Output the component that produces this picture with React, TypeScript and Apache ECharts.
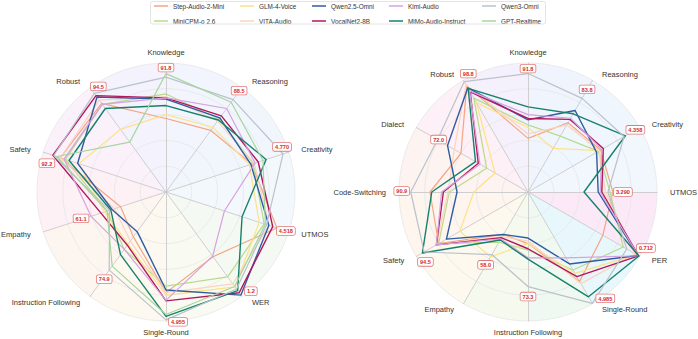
import React, { useEffect, useRef } from "react";
import * as echarts from "echarts";

// ---------- data ----------
const seriesNames = [
  "Step-Audio-2-Mini", "MiniCPM-o 2.6", "GLM-4-Voice", "VITA-Audio", "Qwen2.5-Omni",
  "VocalNet2-8B", "Kimi-Audio", "MiMo-Audio-Instruct", "Qwen3-Omni", "GPT-Realtime",
];
const seriesColors = [
  "#f4a582", "#b8dc8c", "#fde28a", "#fcd3be", "#2f5ca4",
  "#b3175c", "#d5a2e2", "#17806d", "#b9c2cb", "#a7d69c",
];
const seriesWidths = [1.2, 1.2, 1.2, 1.2, 1.4, 1.4, 1.2, 1.4, 1.2, 1.2];

// legend columns (matplotlib-like column-major layout)
const legendColumns = [
  ["Step-Audio-2-Mini", "MiniCPM-o 2.6"],
  ["GLM-4-Voice", "VITA-Audio"],
  ["Qwen2.5-Omni", "VocalNet2-8B"],
  ["Kimi-Audio", "MiMo-Audio-Instruct"],
  ["Qwen3-Omni", "GPT-Realtime"],
];

// left radar: clockwise from top
const leftAxes = ["Knowledge", "Reasoning", "Creativity", "UTMOS", "WER", "Single-Round",
  "Instruction Following", "Empathy", "Safety", "Robust"];
const leftMax = [100, 100, 5, 5, 100, 5, 100, 100, 100, 100];
const leftLowerBetter = [false, false, false, false, true, false, false, false, false, false];
const leftBest = ["91.8", "88.5", "4.770", "4.518", "1.2", "4.955", "74.9", "61.1", "92.2", "94.5"];
const leftBestValues = [91.8, 88.5, 4.77, 4.518, 1.2, 4.955, 74.9, 61.1, 92.2, 94.5];

const leftS2M = [57, 59, 3.5, 4.518, 38, 3.9, 43, 37, 86, 85];
const leftMCP = [76, 70, 3.55, 4.0, 18.7, 3.65, 55, 48, 82, 84];
const leftGLM = [60, 62, 3.4, 3.8, 9, 4.0, 50, 50, 71, 60];
const leftVITA = [74, 68, 3.6, 4.2, 12, 3.9, 47, 42, 86, 88];
const leftQ25 = [72, 71, 3.46, 4.19, 1.2, 3.8, 38, 44, 72, 91];
const leftVN = [73, 73, 3.76, 4.35, 3.5, 4.22, 51, 53, 92.2, 92.3];
const leftKimi = [73, 80, 3.63, 2.38, 38.5, 4.2, 55, 61.1, 83, 84];
const leftMiMo = [67, 69, 4.08, 3.1, 5.5, 4.82, 60, 45, 79, 80];
const leftQ3 = [89, 88.5, 4.77, 4.1, 7, 4.955, 74.9, 46, 91.5, 94.5];
const leftGPT = [91.8, 86, 3.95, 4.05, 9.5, 4.75, 71, 48, 89, 47.8];
const leftValues = [leftS2M, leftMCP, leftGLM, leftVITA, leftQ25, leftVN, leftKimi, leftMiMo, leftQ3, leftGPT];

// right radar: clockwise from top
const rightAxes = ["Knowledge", "Reasoning", "Creativity", "UTMOS", "PER", "Single-Round",
  "Instruction Following", "Empathy", "Safety", "Code-Switching", "Dialect", "Robust"];
const rightMax = [100, 100, 5, 5, 100, 5, 100, 100, 100, 100, 100, 100];
const rightLowerBetter = [false, false, false, false, true, false, false, false, false, false, false, false];
const rightBest = ["91.8", "83.8", "4.358", "3.290", "0.712", "4.985", "73.3", "58.0", "94.5", "90.9", "72.0", "98.8"];
const rightBestValues = [91.8, 83.8, 4.358, 3.29, 0.712, 4.985, 73.3, 58.0, 94.5, 90.9, 72.0, 98.8];

const rightS2M = [41.6, 62, 3.25, 3.29, 33, 4.0, 40, 38, 80, 76, 60, 95];
const rightMCP = [52, 50, 3.15, 3.18, 14.7, 3.49, 45, 45, 80, 61, 37, 84];
const rightGLM = [50, 39, 3.2, 2.9, 3, 3.64, 40, 58.0, 61, 42, 29.5, 80];
const rightVITA = [45, 60, 3.2, 3.0, 4, 4.1, 38, 40, 82, 62, 66, 96];
const rightQ25 = [56, 73, 3.07, 2.72, 1.5, 3.22, 35.7, 38, 73, 55, 72.0, 93.3];
const rightVN = [57, 65, 3.37, 2.86, 1.0, 3.79, 44, 41, 82, 65.6, 44.5, 89.6];
const rightKimi = [60, 66, 3.3, 2.8, 1.2, 2.95, 51, 42, 82, 67, 43, 90.5];
const rightMiMo = [66, 70, 4.358, 2.17, 0.712, 4.69, 52, 43, 94.5, 74.6, 47, 92.8];
const rightQ3 = [91.8, 83.8, 4.3, 3.1, 11.6, 4.985, 73.3, 56, 93, 90.9, 81, 98.8];
const rightValues = [rightS2M, rightMCP, rightGLM, rightVITA, rightQ25, rightVN, rightKimi, rightMiMo, rightQ3, null];

// pastel background sectors, clockwise from the top axis
const leftSectorColors = ["#f2f5fd", "#f1f6fd", "#f3f8fd", "#f4faf3", "#f9fbf2",
  "#fdf9f0", "#fdf6f0", "#fdf1f6", "#fbf1fa", "#f4f2fc"];
const rightSectorColors = ["#f0f5fd", "#f0f6fd", "#f1f7fd", "#fce9f7", "#e8f7fb", "#eff9f1",
  "#f6faee", "#fdf9ee", "#fdf5ee", "#fdf3f0", "#fdf0f6", "#f5f1fc"];

// ---------- styles ----------
const FONT = "Liberation Sans, Arial, sans-serif";
const leftCenter = [166, 192];
const rightCenter = [528, 192];
const RADIUS = 129;
const leftBoxOffsets = [[0, -6], [6, -9], [-1, -7], [9, 3], [10, -4], [12, 2], [-5, 9], [-10, 2], [-6, 8], [4, -7]];
const rightBoxOffsets = [[0, -5], [5, -9], [10, -6], [10, 0], [7, -8], [13, -5], [0, 10], [-5, 8], [3, 9], [-9, -1], [-9, -6], [4, -8]];
const legendX = [154, 240, 312, 389, 482];

// ECharts lays radar indicators counter-clockwise; reorder clockwise lists
const ccw = <T,>(arr: T[]): T[] => [arr[0], ...arr.slice(1).reverse()];
const plotVal = (v: number, i: number, lower: boolean[], max: number[]) => (lower[i] ? max[i] - v : v);

function buildRadar(center: number[], axes: string[], max: number[]) {
  const vertical = new Set([axes[0], axes[axes.length / 2]]);
  return {
    center,
    radius: RADIUS,
    startAngle: 90,
    shape: "circle",
    splitNumber: 5,
    nameGap: 7,
    z: 2,
    indicator: ccw(axes.map((name, i) => ({ name, min: 0, max: max[i], color: "#333" }))),
    axisName: {
      color: "#333",
      fontSize: 7.5,
      fontFamily: FONT,
      formatter: (name: string) => (vertical.has(name) ? `{v|${name}}` : `{s|${name}}`),
      rich: {
        v: { color: "#333", fontSize: 7.5, fontFamily: FONT },
        s: { color: "#333", fontSize: 7.5, fontFamily: FONT, padding: [0, 6, 0, 6] },
      },
    },
    axisLine: { lineStyle: { color: "#c9c9c9", width: 0.9 } },
    splitLine: { lineStyle: { color: "#e4e4e4", width: 0.7 } },
    splitArea: { show: false },
    axisTick: { show: false },
    axisLabel: { show: false },
  };
}

function buildSeries(
  radarIndex: number, values: (number[] | null)[], lower: boolean[], max: number[],
  bestVals: number[], bestText: string[], offsets: number[][],
) {
  const out: any[] = [];
  values.forEach((vals, s) => {
    if (!vals) return;
    out.push({
      type: "radar",
      name: seriesNames[s],
      radarIndex,
      color: seriesColors[s],
      symbol: "none",
      z: 3,
      lineStyle: { color: seriesColors[s], width: seriesWidths[s] },
      itemStyle: { color: seriesColors[s] },
      data: [{ value: ccw(vals.map((v, i) => plotVal(v, i, lower, max))) }],
    });
  });
  const bestPlotted = bestVals.map((v, i) => plotVal(v, i, lower, max));
  bestPlotted.forEach((target, i) => {
    out.push({
      type: "radar",
      name: "best-" + radarIndex + "-" + i,
      radarIndex,
      symbol: "circle",
      symbolSize: 1,
      z: 5,
      silent: true,
      lineStyle: { width: 0, opacity: 0 },
      itemStyle: { color: "rgba(0,0,0,0)" },
      label: {
        show: true,
        position: "inside",
        offset: offsets[i],
        formatter: (p: any) => (Math.abs(p.value - target) < 1e-9 ? `{b|${bestText[i]}}` : ""),
        rich: {
          b: {
            color: "#d42a2a",
            fontSize: 5.6,
            fontWeight: "bold",
            fontFamily: FONT,
            backgroundColor: "#fff",
            borderColor: "#e37a7a",
            borderWidth: 0.8,
            borderRadius: 1.5,
            padding: [1.2, 2, 0.6, 2],
          },
        },
      },
      data: [{ value: ccw(bestPlotted) }],
    });
  });
  return out;
}

function sectorPie(center: number[], colors: string[]) {
  return {
    type: "pie",
    center,
    radius: [0, RADIUS],
    startAngle: 90,
    clockwise: true,
    silent: true,
    z: 0,
    label: { show: false },
    labelLine: { show: false },
    emphasis: { disabled: true },
    data: colors.map((c) => ({ value: 1, itemStyle: { color: c } })),
  };
}

export default function App() {
  const ref = useRef<HTMLDivElement>(null);
  useEffect(() => {
    if (!ref.current) return;
    const chart = echarts.init(ref.current, null, { renderer: "svg" });
    const option: any = {
      animation: false,
      backgroundColor: "#ffffff",
      textStyle: { fontFamily: FONT },
      legend: legendColumns.map((col, c) => ({
        orient: "vertical",
        left: legendX[c],
        top: 3,
        padding: 0,
        itemGap: 9,
        itemWidth: 14,
        itemHeight: 1.5,
        icon: "rect",
        selectedMode: false,
        textStyle: { fontSize: 6.4, color: "#333", fontFamily: FONT },
        data: col,
      })),
      graphic: [
        {
          type: "rect",
          shape: { x: 150.5, y: 1.5, width: 395, height: 22.5, r: 2 },
          style: { fill: "rgba(255,255,255,0)", stroke: "#dddddd", lineWidth: 0.8 },
          z: 10,
          silent: true,
        },
      ],
      radar: [buildRadar(leftCenter, leftAxes, leftMax), buildRadar(rightCenter, rightAxes, rightMax)],
      series: [
        sectorPie(leftCenter, leftSectorColors),
        sectorPie(rightCenter, rightSectorColors),
        ...buildSeries(0, leftValues, leftLowerBetter, leftMax, leftBestValues, leftBest, leftBoxOffsets),
        ...buildSeries(1, rightValues, rightLowerBetter, rightMax, rightBestValues, rightBest, rightBoxOffsets),
      ],
    };
    chart.setOption(option);
    return () => chart.dispose();
  }, []);
  return (
    <div
      ref={ref}
      style={{ position: "absolute", left: 0, top: 0, width: 698, height: 339 }}
    />
  );
}
